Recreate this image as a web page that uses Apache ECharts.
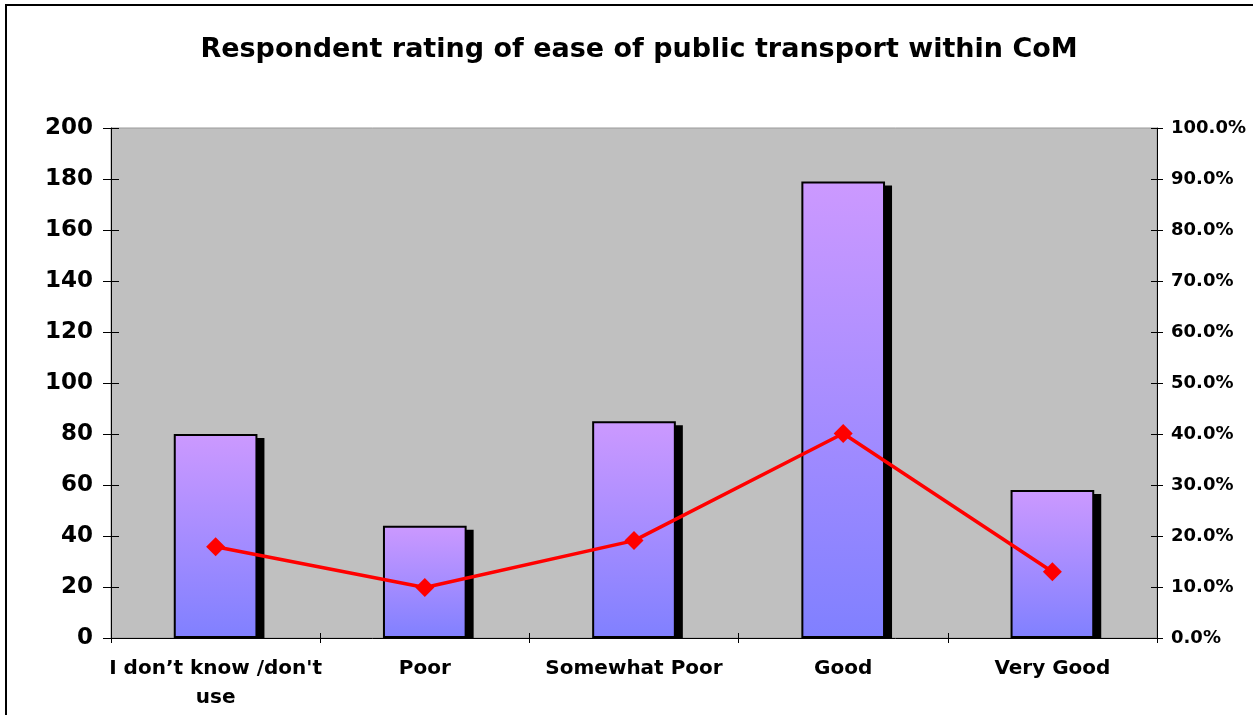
<!DOCTYPE html>
<html>
<head>
<meta charset="utf-8">
<script src="https://cdn.jsdelivr.net/npm/echarts@6/dist/echarts.min.js"></script>
<style>
html,body{margin:0;padding:0;background:#fff;}
#chart{width:1253px;height:715px;}
</style>
</head>
<body>
<div id="chart"></div>
<script>
const titleText = 'Respondent rating of ease of public transport within CoM';
const categories = ['I don\u2019t know /don\'t\nuse', 'Poor', 'Somewhat Poor', 'Good', 'Very Good'];
const counts = [80, 44, 85, 179, 58];
const shares = [0.179, 0.099, 0.191, 0.401, 0.130];
const leftTicks = { min: 0, max: 200, interval: 20 };
const rightTicks = { min: 0, max: 1, interval: 0.1 };

const FONT = 'DejaVu Sans';
const chart = echarts.init(document.getElementById('chart'), null, { renderer: 'canvas' });

const BAR_FRAC = 0.4;

chart.setOption({
  backgroundColor: '#ffffff',
  animation: false,
  title: {
    text: titleText,
    left: 634, textAlign: 'center', top: 31,
    textStyle: { fontFamily: FONT, fontWeight: 'bold', fontSize: 27, color: '#000' }
  },
  graphic: [{
    type: 'rect', shape: { x: 6, y: 5, width: 1400, height: 900 },
    style: { fill: 'none', stroke: '#000', lineWidth: 2 }, silent: true, z: 100
  }],
  grid: {
    left: 111, right: 96, top: 128, bottom: 77,
    show: true, backgroundColor: '#C0C0C0', borderColor: '#9a9a9a', borderWidth: 1
  },
  xAxis: [{
    type: 'category', data: categories, boundaryGap: true, position: 'bottom',
    axisLine: { lineStyle: { color: '#000', width: 1 } },
    axisTick: { show: true, length: 5, lineStyle: { color: '#000' } },
    axisLabel: { fontFamily: FONT, fontWeight: 'bold', fontSize: 20, color: '#000', margin: 16, lineHeight: 29, interval: 0 }
  }, {
    type: 'category', data: categories, boundaryGap: true, position: 'bottom',
    axisLine: { show: false },
    axisTick: { show: true, inside: true, length: 5, lineStyle: { color: '#000' } },
    axisLabel: { show: false }, splitLine: { show: false }
  }],
  yAxis: [{
    type: 'value', min: leftTicks.min, max: leftTicks.max, interval: leftTicks.interval, position: 'left',
    axisLine: { show: true, lineStyle: { color: '#000', width: 1 } },
    axisTick: { show: true, length: 8, lineStyle: { color: '#000' } },
    splitLine: { show: false },
    axisLabel: { fontFamily: FONT, fontWeight: 'bold', fontSize: 23, color: '#000', margin: 18 }
  }, {
    type: 'value', min: rightTicks.min, max: rightTicks.max, interval: rightTicks.interval, position: 'right',
    axisLine: { show: true, lineStyle: { color: '#000', width: 1 } },
    axisTick: { show: true, length: 6, lineStyle: { color: '#000' } },
    splitLine: { show: false },
    axisLabel: { fontFamily: FONT, fontWeight: 'bold', fontSize: 18, color: '#000', margin: 14,
      formatter: v => (v * 100).toFixed(1) + '%' }
  }, {
    type: 'value', min: leftTicks.min, max: leftTicks.max, interval: leftTicks.interval, position: 'left',
    axisLine: { show: false }, axisTick: { show: true, inside: true, length: 8, lineStyle: { color: '#000' } },
    splitLine: { show: false }, axisLabel: { show: false }
  }, {
    type: 'value', min: rightTicks.min, max: rightTicks.max, interval: rightTicks.interval, position: 'right',
    axisLine: { show: false }, axisTick: { show: true, inside: true, length: 6, lineStyle: { color: '#000' } },
    splitLine: { show: false }, axisLabel: { show: false }
  }],
  series: [{
    type: 'custom', name: 'shadow', xAxisIndex: 0, yAxisIndex: 0, z: 1, silent: true,
    data: counts.map((v, i) => [i, v]),
    renderItem: function (params, api) {
      const top = api.coord([api.value(0), api.value(1)]);
      const base = api.coord([api.value(0), 0]);
      const w = api.size([1, 0])[0] * BAR_FRAC;
      return {
        type: 'rect',
        shape: { x: top[0] - w / 2 + 7, y: top[1] + 4, width: w, height: base[1] - top[1] - 4 },
        style: { fill: '#000' }
      };
    }
  }, {
    type: 'bar', name: 'Count', data: counts, xAxisIndex: 0, yAxisIndex: 0, z: 2,
    barWidth: (BAR_FRAC * 100) + '%',
    itemStyle: {
      color: new echarts.graphic.LinearGradient(0, 0, 0, 1, [
        { offset: 0, color: '#CC99FF' }, { offset: 1, color: '#8080FF' }
      ]),
      borderColor: '#000', borderWidth: 2
    }
  }, {
    type: 'line', name: 'Percent', data: shares, xAxisIndex: 0, yAxisIndex: 1, z: 3,
    symbol: 'diamond', symbolSize: 19,
    lineStyle: { color: '#FF0000', width: 3.5 },
    itemStyle: { color: '#FF0000' }
  }]
});
</script>
</body>
</html>
